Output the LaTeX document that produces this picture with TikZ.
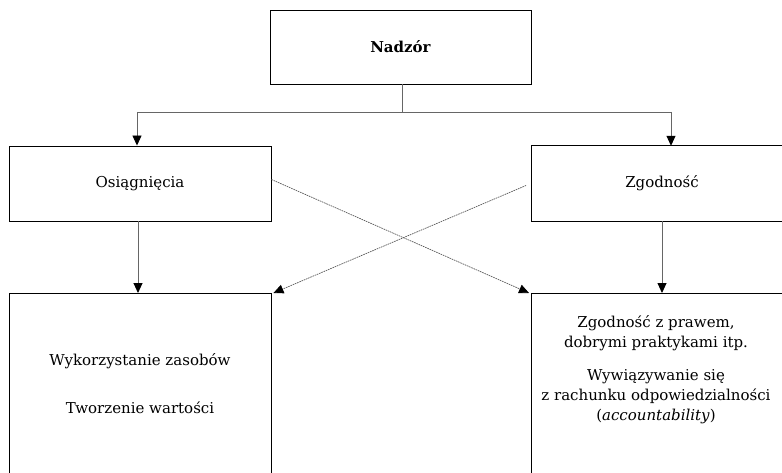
\documentclass[tikz,border=0pt]{standalone}
\usepackage{fontspec}
\setmainfont{DejaVu Serif}
\usetikzlibrary{arrows.meta}
\begin{document}
\begin{tikzpicture}[x=1pt,y=-1pt,
  box/.style={draw=black,line width=0.9pt,inner sep=0pt,align=center,
    font=\fontsize{15}{20}\selectfont},
  slot/.style={inner sep=0pt},
  edge/.style={draw=black,line width=0.9pt},
  txt/.style={align=center,inner sep=0pt,font=\fontsize{15}{20}\selectfont},
  tip/.style={-{Triangle[length=10pt,width=9pt,fill=black,color=black]}},
  link/.style={draw=black!60,line width=0.9pt},
  arr/.style={link,tip},
  cross/.style={draw=black!65,line width=0.7pt,dash pattern=on 1.6pt off 0.8pt,tip}]
  \useasboundingbox (0,0) rectangle (782,473);
  % top level
  \node[box,minimum width=261pt,minimum height=74pt] (nadzor) at (400.5,47) {\textbf{Nadzór}};
  % second level
  \node[box,minimum width=262pt,minimum height=75pt] (osi) at (140,183.5) {};
  \node[slot,minimum width=251pt,minimum height=75pt,anchor=west] (zgo) at (531,183.5) {};
  % third level, running on past the lower edge
  \node[box,minimum width=262pt,minimum height=220pt,anchor=north] (wyk) at (140,293) {};
  \node[slot,minimum width=251pt,minimum height=180pt,anchor=north west] (zgp) at (531,293) {};
  % boxes on the right run on past the right edge
  \draw[edge] (zgo.north east) -- (zgo.north west) -- (zgo.south west) -- (zgo.south east);
  \draw[edge] (zgp.north east) -- (zgp.north west) -- (zgp.south west);
  % texts
  \node[txt] (ositxt) at (osi) {Osiągnięcia};
  \node[txt] (zgotxt) at (662,183.5) {Zgodność};
  \node[txt] (wyktxt) at (140,384)
    {Wykorzystanie zasobów\\[28pt]Tworzenie wartości};
  \node[txt,anchor=north] (zgptxt) at (656,315)
    {Zgodność z prawem,\\dobrymi praktykami itp.\\[13pt]Wywiązywanie się\\z rachunku odpowiedzialności\\(\textit{accountability})};
  % connectors
  \coordinate (split) at (402,112);
  \coordinate (jl) at (137,112);
  \coordinate (jr) at (671,112);
  \draw[link] (nadzor.south -| split) -- (split);
  \draw[link] (jl) -- (jr);
  \draw[arr] (jl) -- (jl |- osi.north);
  \draw[arr] (jr) -- (jr |- zgo.north);
  \draw[arr] ([xshift=-2pt]osi.south) -- ([xshift=-2pt]wyk.north);
  \draw[arr] (zgotxt |- zgo.south) -- (zgotxt |- zgp.north);
  \draw[cross] ([yshift=4pt]osi.east) -- ([xshift=-2pt]zgp.north west);
  \draw[cross] ([xshift=-5pt,yshift=-2pt]zgo.west) -- ([xshift=2pt]wyk.north east);
\end{tikzpicture}
\end{document}
